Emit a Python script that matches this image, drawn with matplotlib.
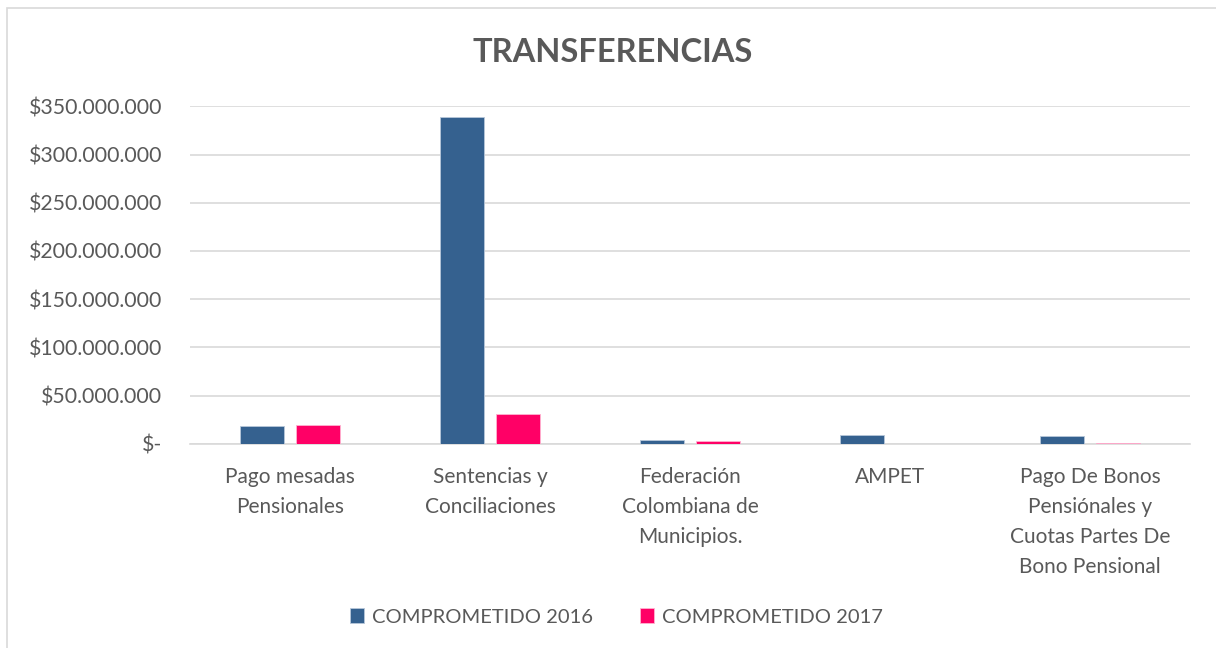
import matplotlib.pyplot as plt
import numpy as np
from matplotlib.ticker import FuncFormatter
from matplotlib.patches import Rectangle

plt.rcParams['font.family'] = ['Lato', 'DejaVu Sans']

categorias = [
    "Pago mesadas\nPensionales",
    "Sentencias y\nConciliaciones",
    "Federación\nColombiana de\nMunicipios.",
    "AMPET",
    "Pago De Bonos\nPensiónales y\nCuotas Partes De\nBono Pensional",
]
comprometido_2016 = [18.7e6, 338.6e6, 4.1e6, 9.0e6, 8.0e6]
comprometido_2017 = [19.7e6, 31.2e6, 2.8e6, 0.0, 0.8e6]

gris = '#595959'
linea = '#d9d9d9'


def pesos(v, pos):
    if v == 0:
        return "$-"
    return "$" + f"{v:,.0f}".replace(",", ".")


fig = plt.figure(figsize=(12.16, 6.48), dpi=100)
ax = fig.add_axes([190 / 1216, 1 - 443.7 / 648, 1000 / 1216, 337.4 / 648])

# chart frame
fig.patches.append(Rectangle((7 / 1216, -0.01), 1.02, 1 - 8 / 648 + 0.01,
                             transform=fig.transFigure, fill=False,
                             edgecolor=linea, linewidth=1.2))

x = np.arange(len(categorias))
ancho = 0.222
ax.bar(x - 0.14, comprometido_2016, ancho, color='#35618f',
       edgecolor='#b8c7da', linewidth=0.6, zorder=3, label="COMPROMETIDO 2016")
ax.bar(x + 0.14, comprometido_2017, ancho, color='#ff0066',
       edgecolor='#ffb3d1', linewidth=0.6, zorder=3, label="COMPROMETIDO 2017")

ax.set_xlim(-0.5, len(categorias) - 0.5)
ax.set_ylim(0, 350e6)
ax.set_yticks(np.arange(0, 350e6 + 1, 50e6))
ax.yaxis.set_major_formatter(FuncFormatter(pesos))
ax.grid(axis='y', color=linea, linewidth=1.2, zorder=0)
for s in ['top', 'right', 'left']:
    ax.spines[s].set_visible(False)
ax.spines['bottom'].set_color(linea)
ax.spines['bottom'].set_linewidth(1.2)
ax.tick_params(axis='y', length=0, pad=20, labelsize=15.3, labelcolor=gris)
ax.tick_params(axis='x', length=0, pad=17, labelsize=15, labelcolor=gris)
ax.set_xticks(x)
ax.set_xticklabels(categorias, linespacing=1.62, va='top')

fig.text(0.504, 1 - 52 / 648, "TRANSFERENCIAS", ha='center', va='center',
         fontsize=23.5, fontweight='bold', color=gris)

fig.legend(loc='center', bbox_to_anchor=(0.507, 1 - 617 / 648), ncol=2,
           frameon=False, fontsize=14.5, labelcolor=gris, handlelength=0.7,
           handleheight=0.7, handletextpad=0.4, columnspacing=2.3)

fig.savefig('out.png', dpi=100)
